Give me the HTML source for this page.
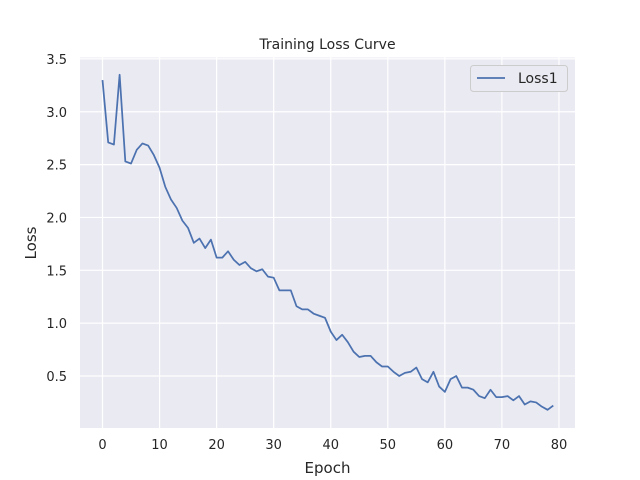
<!DOCTYPE html>
<html><head><meta charset="utf-8"><style>
body{margin:0;background:#fff;}
svg{display:block;font-family:"DejaVu Sans","Liberation Sans",sans-serif;}
</style></head><body>
<svg id="chart" width="640" height="480">
<rect x="80" y="57.5" width="495" height="370.5" fill="#eaeaf2"/>
<g id="grid"></g>
<polyline id="line" fill="none" stroke="#4c72b0" stroke-width="1.75" stroke-linejoin="round"/>
<text x="327.5" y="49" text-anchor="middle" font-size="14" fill="#262626">Training Loss Curve</text>
<text x="327.5" y="473" text-anchor="middle" font-size="15" fill="#262626">Epoch</text>
<text x="36" y="243" text-anchor="middle" font-size="15" fill="#262626" transform="rotate(-90 36 243)">Loss</text>
<g>
<rect x="470.5" y="65.5" width="97" height="26" rx="3" fill="#eaeaf2" stroke="#cccccc"/>
<line x1="477" y1="78" x2="505" y2="78" stroke="#4c72b0" stroke-width="1.75"/>
<text x="518" y="83" font-size="14" fill="#262626">Loss1</text>
</g>
</svg>
<script>
const epochs = [];
const loss1 = [3.30,2.71,2.69,3.35,2.53,2.51,2.64,2.70,2.68,2.59,2.47,2.29,2.17,2.09,1.97,1.90,1.76,1.80,1.71,1.79,1.62,1.62,1.68,1.60,1.55,1.58,1.52,1.49,1.51,1.44,1.43,1.31,1.31,1.31,1.16,1.13,1.13,1.09,1.07,1.05,0.92,0.84,0.89,0.82,0.73,0.68,0.69,0.69,0.63,0.59,0.59,0.54,0.50,0.53,0.54,0.58,0.47,0.44,0.54,0.40,0.35,0.47,0.50,0.39,0.39,0.37,0.31,0.29,0.37,0.30,0.30,0.31,0.27,0.31,0.23,0.26,0.25,0.21,0.18,0.22];
for (let i = 0; i < loss1.length; i++) epochs.push(i);
const xTicks = [0,10,20,30,40,50,60,70,80];
const yTicks = [0.5,1.0,1.5,2.0,2.5,3.0,3.5];
function xs(v){return 102.5 + v*5.706;}
function ys(v){return 376 - (v-0.5)*105.7;}
const NS='http://www.w3.org/2000/svg';
const grid=document.getElementById('grid');
const svg=document.getElementById('chart');
xTicks.forEach(t=>{
  const l=document.createElementNS(NS,'line');
  l.setAttribute('x1',xs(t));l.setAttribute('x2',xs(t));l.setAttribute('y1',57.5);l.setAttribute('y2',428);
  l.setAttribute('stroke','#fff');l.setAttribute('stroke-width','1.2');
  
  
  grid.appendChild(l);
  const tx=document.createElementNS(NS,'text');
  tx.setAttribute('x',xs(t));tx.setAttribute('y',449);tx.setAttribute('text-anchor','middle');
  tx.setAttribute('font-size','13');tx.setAttribute('fill','#262626');tx.textContent=t;
  
  
  svg.appendChild(tx);
});
yTicks.forEach(t=>{
  const l=document.createElementNS(NS,'line');
  l.setAttribute('x1',80);l.setAttribute('x2',575);l.setAttribute('y1',ys(t));l.setAttribute('y2',ys(t));
  l.setAttribute('stroke','#fff');l.setAttribute('stroke-width','1.2');
  
  
  grid.appendChild(l);
  const tx=document.createElementNS(NS,'text');
  tx.setAttribute('x',67);tx.setAttribute('y',ys(t)+5);tx.setAttribute('text-anchor','end');
  tx.setAttribute('font-size','13');tx.setAttribute('fill','#262626');tx.textContent=t.toFixed(1);
  
  
  svg.appendChild(tx);
});
document.getElementById('line').setAttribute('points', epochs.map((e,i)=>xs(e)+','+ys(loss1[i])).join(' '));
</script>
</body></html>
